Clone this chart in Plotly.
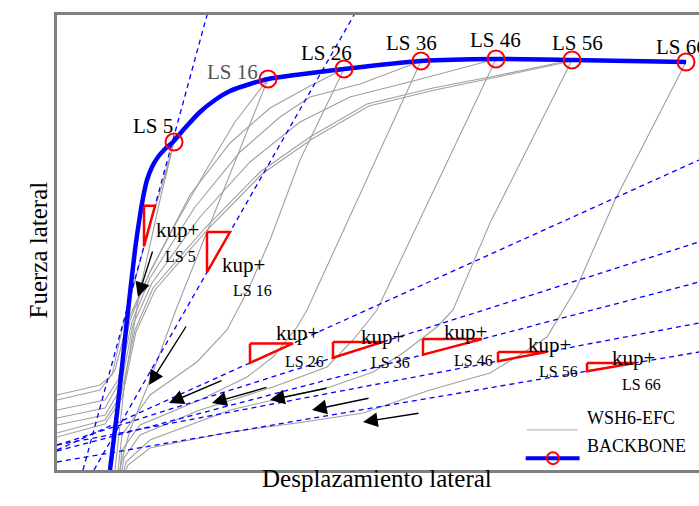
import plotly.graph_objects as go

# ---------------- data (displacement units, force units; schematic) ----------------
# Backbone curve
bb_x = [0, 7, 17, 25, 29, 33, 37, 42, 48, 55, 63, 75, 90, 105, 120, 140, 158, 234, 311, 386, 462, 576]
bb_y = [0, 57, 150, 220, 248, 272, 290, 303, 313, 321, 328, 342, 358, 370, 379, 386, 391, 401, 409, 411, 410, 408]

# Limit-state points on the backbone
ls_names = ["LS 5", "LS 16", "LS 26", "LS 36", "LS 46", "LS 56", "LS 66"]
ls_x = [64, 158, 234, 311, 386, 462, 576]
ls_y = [328, 391, 401, 409, 411, 410, 408]

# Hysteresis cycles (WSH6-EFC), one polyline per limit state
cyc_x = {
    "LS 5": [-53, -10, 2, 12, 25, 40, 52, 64, 50, 30, 15, 8, 5],
    "LS 16": [-53, -10, 5, 18, 40, 65, 95, 125, 158, 67, 40, 20, 12, 10],
    "LS 26": [-53, -5, 8, 20, 40, 80, 120, 160, 200, 234, 190, 160, 138, 117, 87, 40, 12, 8],
    "LS 36": [-53, -5, 8, 22, 40, 85, 130, 170, 200, 250, 311, 197, 187, 163, 137, 90, 30, 12, 10],
    "LS 46": [-53, -5, 10, 23, 42, 90, 140, 190, 240, 307, 386, 267, 243, 217, 163, 90, 30, 14, 12],
    "LS 56": [-53, -5, 11, 25, 43, 95, 150, 200, 257, 323, 390, 462, 380, 343, 327, 293, 263, 220, 120, 40, 16, 14],
    "LS 66": [-53, -5, 12, 26, 45, 97, 152, 202, 259, 325, 392, 462, 576, 505, 467, 447, 437, 413, 380, 320, 253, 187, 120, 40, 18, 16],
}
cyc_y = {
    "LS 5": [75, 85, 95, 140, 190, 245, 285, 328, 270, 180, 90, 30, 0],
    "LS 16": [70, 80, 100, 150, 198, 245, 298, 348, 391, 163, 90, 40, 10, 0],
    "LS 26": [60, 70, 90, 150, 198, 275, 327, 362, 384, 401, 310, 230, 180, 140, 108, 75, 35, 0],
    "LS 36": [52, 62, 85, 148, 192, 263, 318, 353, 373, 386, 409, 160, 143, 113, 93, 70, 45, 20, 0],
    "LS 46": [45, 55, 80, 145, 187, 253, 308, 348, 373, 390, 411, 160, 130, 103, 83, 60, 35, 12, 0],
    "LS 56": [37, 50, 75, 140, 182, 242, 298, 333, 366, 382, 395, 410, 247, 160, 143, 117, 98, 83, 60, 30, 8, 0],
    "LS 66": [33, 46, 72, 138, 180, 240, 296, 331, 364, 380, 394, 409, 408, 270, 183, 150, 133, 117, 97, 80, 57, 47, 38, 22, 5, 0],
}

# Secant (unloading/reloading) stiffness lines kup+, two end points each
kup_x0 = [-27, -16, -53, -53, -53, -53, -53]
kup_y0 = [0, 0, 20, 25, 19, 25, 8]
kup_x1 = [97, 244, 589, 589, 589, 589, 589]
kup_y1 = [455, 455, 310, 228, 188, 147, 118]

# Slope-triangle extents along each kup+ line (x range)
tri_xa = [34, 97, 140, 223, 313, 388, 477]
tri_xb = [45, 120, 183, 273, 372, 437, 525]

# Label positions for "kup+" and the small LS tag
kup_lab_x = [67, 133, 187, 272, 355, 439, 523]
kup_lab_y = [240, 205, 137, 133, 138, 125, 112]
kls_lab_x = [70, 142, 194, 280, 363, 448, 531]
kls_lab_y = [214, 180, 109, 108, 110, 99, 86]

# Top LS label positions
top_lab_x = [43, 122, 216, 301, 385, 467, 544]
top_lab_y = [344, 398, 417, 427, 430, 427, 423]

# Direction arrows (tail -> head)
arr_tx = [43, 77, 113, 158, 218, 260, 310]
arr_ty = [220, 145, 90, 83, 82, 72, 57]
arr_hx = [28, 39, 59, 102, 160, 202, 253]
arr_hy = [173, 85, 67, 67, 70, 60, 48]

SERIF = "Liberation Serif, Times New Roman, serif"
GRAY = "#a0a0a0"
BLUE = "#0000ff"
RED = "#ff0000"

fig = go.Figure()

for name in ls_names:
    fig.add_trace(go.Scatter(x=cyc_x[name], y=cyc_y[name], mode="lines",
                             line=dict(color=GRAY, width=1.1), showlegend=False,
                             hoverinfo="skip"))

def line_y(i, x):
    return kup_y0[i] + (kup_y1[i] - kup_y0[i]) * (x - kup_x0[i]) / (kup_x1[i] - kup_x0[i])

for i in range(len(kup_x0)):
    fig.add_trace(go.Scatter(x=[kup_x0[i], kup_x1[i]], y=[kup_y0[i], kup_y1[i]],
                             mode="lines", line=dict(color=BLUE, width=1.3, dash="5px,4px"),
                             showlegend=False, hoverinfo="skip"))

fig.add_trace(go.Scatter(x=bb_x, y=bb_y, mode="lines",
                         line=dict(color=BLUE, width=4.5, shape="spline", smoothing=0.6),
                         showlegend=False, hoverinfo="skip"))

for i in range(len(tri_xa)):
    xa, xb = tri_xa[i], tri_xb[i]
    ya, yb = line_y(i, xa), line_y(i, xb)
    fig.add_trace(go.Scatter(x=[xa, xb, xa, xa], y=[yb, yb, ya, yb], mode="lines",
                             line=dict(color=RED, width=2.5), showlegend=False,
                             hoverinfo="skip"))

fig.add_trace(go.Scatter(x=ls_x, y=ls_y, mode="markers",
                         marker=dict(symbol="circle-open", size=17, color=RED,
                                     line=dict(width=2, color=RED)),
                         showlegend=False, hoverinfo="skip"))

ann = []
for i, name in enumerate(ls_names):
    ann.append(dict(x=top_lab_x[i], y=top_lab_y[i], text=name, showarrow=False,
                    xanchor="left" if i == 6 else "center",
                    font=dict(family=SERIF, size=21, color="#555555" if i == 1 else "black")))
    ann.append(dict(x=kup_lab_x[i], y=kup_lab_y[i], text="kup+", showarrow=False,
                    font=dict(family=SERIF, size=21, color="black")))
    ann.append(dict(x=kls_lab_x[i], y=kls_lab_y[i], text=name, showarrow=False,
                    font=dict(family=SERIF, size=16, color="black")))

for i in range(len(arr_tx)):
    ann.append(dict(x=arr_hx[i], y=arr_hy[i], ax=arr_tx[i], ay=arr_ty[i],
                    xref="x", yref="y", axref="x", ayref="y", text="",
                    showarrow=True, arrowhead=2, arrowsize=2.1, arrowwidth=1.4,
                    arrowcolor="black"))

# axis titles
ann.append(dict(x=0.498, y=-0.052, xref="paper", yref="paper", text="Desplazamiento lateral",
                showarrow=False, font=dict(family=SERIF, size=25, color="black")))
ann.append(dict(x=-0.0545, y=0.4835, xref="paper", yref="paper", text="Fuerza lateral",
                showarrow=False, textangle=-90, font=dict(family=SERIF, size=25, color="black")))

# manual legend
ann.append(dict(x=0.822, y=0.088, xref="paper", yref="paper", text="WSH6-EFC",
                showarrow=False, xanchor="left", font=dict(family=SERIF, size=18, color="black")))
ann.append(dict(x=0.822, y=0.026, xref="paper", yref="paper", text="BACKBONE",
                showarrow=False, xanchor="left", font=dict(family=SERIF, size=18, color="black")))

shapes = [
    dict(type="line", xref="paper", yref="paper", x0=0.732, x1=0.811, y0=0.088, y1=0.088,
         line=dict(color="#b8b8b8", width=1.3)),
    dict(type="line", xref="paper", yref="paper", x0=0.730, x1=0.814, y0=0.026, y1=0.026,
         line=dict(color=BLUE, width=4)),
    dict(type="circle", xref="paper", yref="paper", xsizemode="pixel", ysizemode="pixel",
         xanchor=0.7725, yanchor=0.026, x0=-6, x1=6, y0=-6, y1=6,
         line=dict(color=RED, width=2)),
]

fig.update_layout(
    width=699, height=506,
    margin=dict(l=57, r=0, t=15, b=36),
    paper_bgcolor="white", plot_bgcolor="white",
    showlegend=False,
    annotations=ann, shapes=shapes,
    xaxis=dict(range=[-53, 589], showgrid=False, zeroline=False, showticklabels=False,
               ticks="", showline=True, mirror=True, linecolor="#808080", linewidth=2.5),
    yaxis=dict(range=[0, 455], showgrid=False, zeroline=False, showticklabels=False,
               ticks="", showline=True, mirror=False, linecolor="#808080", linewidth=2.5),
)

fig.write_html("out.html")
